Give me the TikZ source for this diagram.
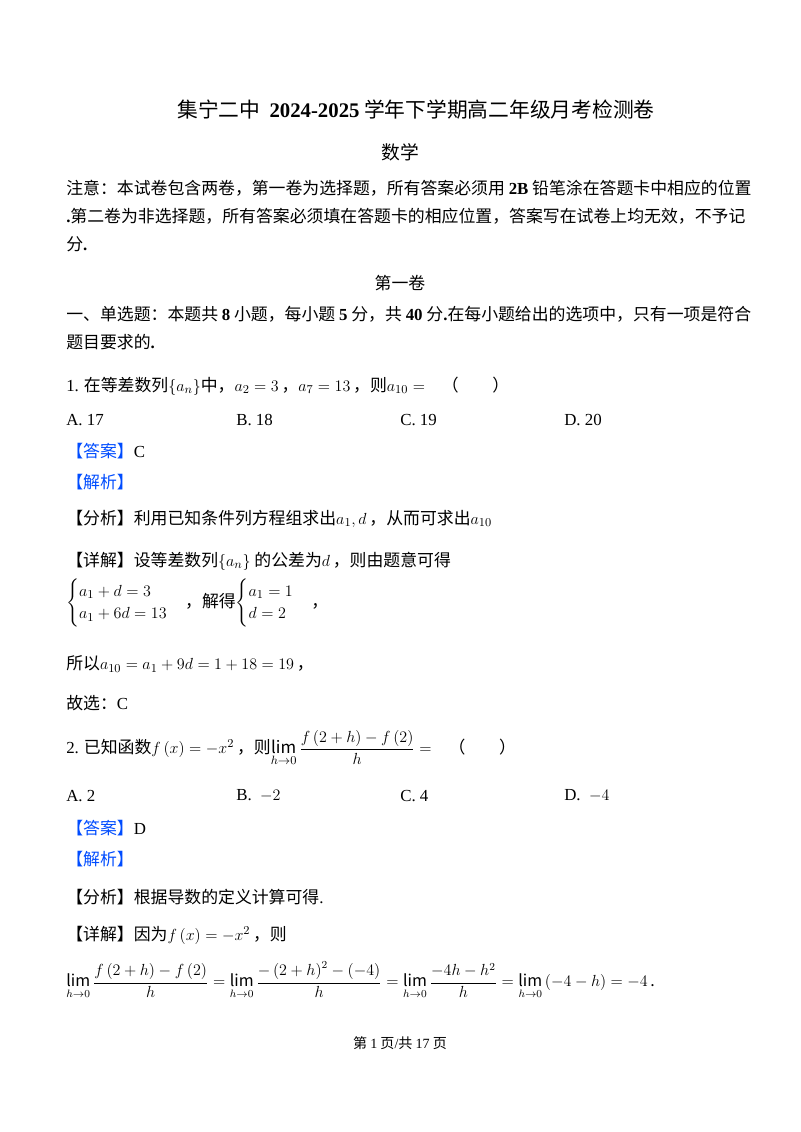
\documentclass[tikz,border=0pt]{standalone}
\usepackage{amsmath}
\usepackage{fontspec}
\setmainfont{Noto Sans CJK SC}
\newfontfamily\en{Liberation Serif}
\newcommand{\E}[1]{{\en #1}}
\newcommand{\B}[1]{{\en\bfseries #1}}
\begin{document}
\begin{tikzpicture}[x=0.02625cm,y=-0.02625cm,
  t/.style={anchor=west,inner sep=0pt,font=\fontsize{12.6pt}{14pt}\selectfont},
  c/.style={inner sep=0pt,font=\fontsize{12.6pt}{14pt}\selectfont}]
\useasboundingbox (0,0) rectangle (800,1132);
\node[c,font=\fontsize{15.5pt}{18pt}\selectfont] (title) at (416,110) {集宁二中\ \ \B{2024-2025} 学年下学期高二年级月考检测卷};
\node[c,font=\fontsize{14pt}{16pt}\selectfont] (sub) at (400,152) {数学};
\node[t] (n1) at (66,188) {注意：本试卷包含两卷，第一卷为选择题，所有答案必须用 \B{2B} 铅笔涂在答题卡中相应的位置};
\node[t] (n2) at (66,216) {\B{.}第二卷为非选择题，所有答案必须填在答题卡的相应位置，答案写在试卷上均无效，不予记};
\node[t] (n3) at (66,244) {分\B{.}};
\node[c] (v1) at (400,283) {第一卷};
\node[t] (s1) at (66,314) {一、单选题：本题共 \B{8} 小题，每小题 \B{5} 分，共 \B{40} 分\B{.}在每小题给出的选项中，只有一项是符合};
\node[t] (s2) at (66,342) {题目要求的\B{.}};
\node[t] (q1) at (66,386) {\E{1.} 在等差数列$\left\{a_n\right\}$中，$a_2=3$\,，$a_7=13$\,，则$a_{10}=$\quad （\qquad ）};
\node[t] (q1a) at (66,420) {\E{A. 17}};
\node[t] (q1b) at (236,420) {\E{B. 18}};
\node[t] (q1c) at (400,420) {\E{C. 19}};
\node[t] (q1d) at (564,420) {\E{D. 20}};
\node[t] (a1) at (66,451) {\textcolor{blue!70!cyan}{【答案】}\E{C}};
\node[t] (j1) at (66,482) {\textcolor{blue!70!cyan}{【解析】}};
\node[t] (f1) at (66,519) {【分析】利用已知条件列方程组求出$a_1,d$\,，从而可求出$a_{10}$};
\node[t] (d1) at (66,561) {【详解】设等差数列$\left\{a_n\right\}$ 的公差为$d$\,，则由题意可得};
\node[t] (sys) at (66,603) {$\begin{cases}a_1+d=3\\ a_1+6d=13\end{cases}$，解得$\begin{cases}a_1=1\\ d=2\end{cases}$，};
\node[t] (so) at (66,664) {所以$a_{10}=a_1+9d=1+18=19$\,，};
\node[t] (g1) at (66,703) {故选：\E{C}};
\node[t] (q2) at (66,748) {\E{2.} 已知函数$f\left(x\right)=-x^2$\,，则$\lim\limits_{h\to0}\dfrac{f\left(2+h\right)-f\left(2\right)}{h}=$\quad （\qquad ）};
\node[t] (q2a) at (66,796) {\E{A. 2}};
\node[t] (q2b) at (236,796) {\E{B.}\; $-2$};
\node[t] (q2c) at (400,796) {\E{C. 4}};
\node[t] (q2d) at (564,796) {\E{D.}\; $-4$};
\node[t] (a2) at (66,828) {\textcolor{blue!70!cyan}{【答案】}\E{D}};
\node[t] (j2) at (66,859) {\textcolor{blue!70!cyan}{【解析】}};
\node[t] (f2) at (66,897) {【分析】根据导数的定义计算可得\E{.}};
\node[t] (d2) at (66,935) {【详解】因为$f\left(x\right)=-x^2$\,，则};
\node[t,font=\fontsize{12pt}{14pt}\selectfont] (eq) at (66,980) {$\lim\limits_{h\to0}\dfrac{f\left(2+h\right)-f\left(2\right)}{h}=\lim\limits_{h\to0}\dfrac{-\left(2+h\right)^2-\left(-4\right)}{h}=\lim\limits_{h\to0}\dfrac{-4h-h^2}{h}=\lim\limits_{h\to0}\left(-4-h\right)=-4$\,.};
\node[c,font=\fontsize{10.5pt}{12pt}\selectfont] (foot) at (400,1043) {第 \E{1} 页\E{/}共 \E{17} 页};
\end{tikzpicture}
\end{document}
